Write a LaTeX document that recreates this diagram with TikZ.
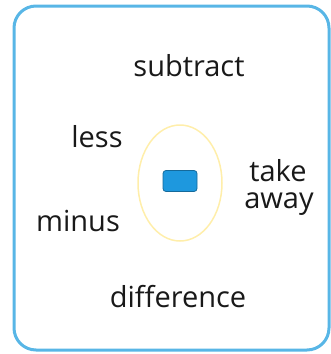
\documentclass[tikz,border=0pt]{standalone}
\usepackage{fontspec}
\setmainfont{Open Sans}
\usepackage{xcolor}
\definecolor{frameblue}{RGB}{88,182,230}
\definecolor{signblue}{RGB}{30,152,222}
\definecolor{ringyellow}{RGB}{255,238,170}

\begin{document}
\begin{tikzpicture}[x=1pt, y=-1pt, line width=1pt]
			
			\useasboundingbox (0,0) rectangle (331,354);
			
			\draw[frameblue, line width=3pt, rounded corners=22pt] (14,6) rectangle (329,350);
			
			\draw[ringyellow, line width=1.5pt] (180,183) ellipse (42 and 58);
			
			\node[draw=signblue!70!black, fill=signblue, rounded corners=3pt, line width=0.8pt,
			minimum width=34pt, minimum height=21pt, inner sep=0pt] (sign) at (180,181) {};
			
			\tikzset{word/.style={font=\fontsize{29}{32}\selectfont, text=black!90, inner sep=0pt}}
			\node[word] (subtract) at (189,66) {subtract};
			\node[word] (less) at (97,137) {less};
			\node[word] (take) at (278,171) {take};
			\node[word] (away) at (279,204) {away};
			\node[word] (minus) at (78,221) {minus};
			\node[word] (difference) at (178,297) {difference};
			
		\end{tikzpicture}
\end{document}
